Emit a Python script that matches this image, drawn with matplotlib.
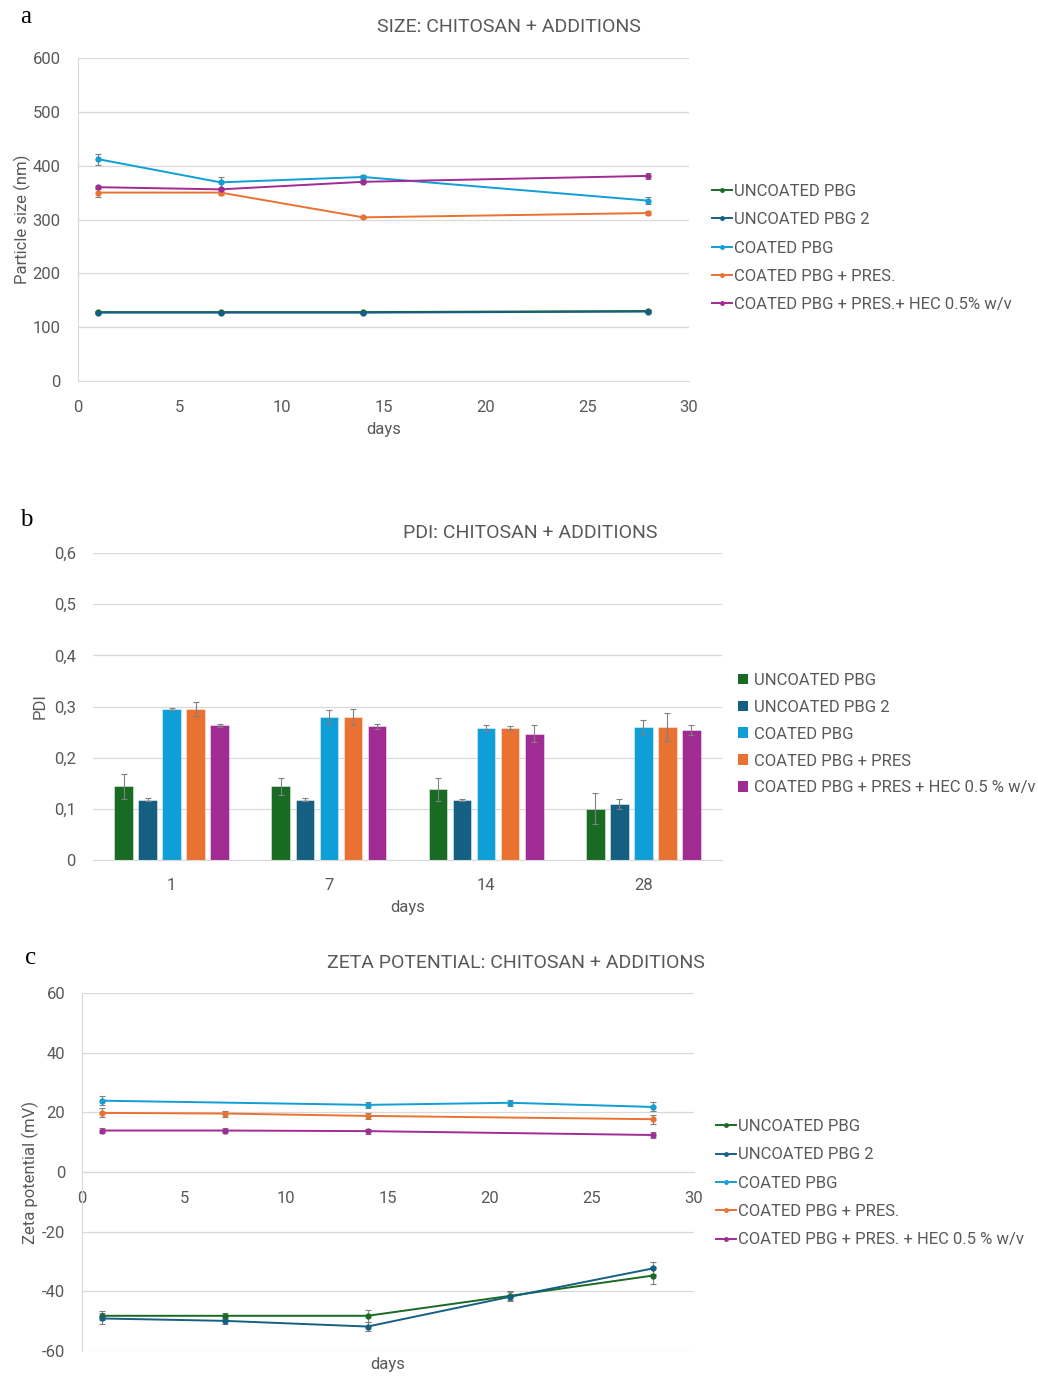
import matplotlib
matplotlib.use("Agg")
import matplotlib.pyplot as plt
from matplotlib.lines import Line2D
from matplotlib.patches import Patch
import numpy as np

plt.rcParams['font.family'] = ['Roboto', 'DejaVu Sans']
plt.rcParams['axes.unicode_minus'] = False

# series names and colours
names_a = ["UNCOATED PBG", "UNCOATED PBG 2", "COATED PBG", "COATED PBG + PRES.",
           "COATED PBG + PRES.+ HEC 0.5% w/v"]
names_b = ["UNCOATED PBG", "UNCOATED PBG 2", "COATED PBG", "COATED PBG + PRES",
           "COATED PBG + PRES + HEC 0.5 % w/v"]
names_c = ["UNCOATED PBG", "UNCOATED PBG 2", "COATED PBG", "COATED PBG + PRES.",
           "COATED PBG + PRES. + HEC 0.5 % w/v"]
colors = ["#196B24", "#156082", "#0F9ED5", "#E97132", "#A02B93"]

# particle size (nm)
size_days = [1, 7, 14, 28]
size_uncoated = [128, 128, 128, 130]
size_uncoated2 = [127, 127, 127, 129]
size_coated = [412, 369, 379, 335]
size_pres = [350, 350, 304, 312]
size_hec = [360, 356, 370, 381]
size_uncoated_err = [2, 2, 2, 2]
size_uncoated2_err = [2, 2, 2, 2]
size_coated_err = [10, 10, 3, 6]
size_pres_err = [8, 5, 2, 3]
size_hec_err = [3, 3, 3, 5]

# PDI
pdi_days = ["1", "7", "14", "28"]
pdi_uncoated = [0.144, 0.144, 0.138, 0.100]
pdi_uncoated2 = [0.118, 0.118, 0.118, 0.110]
pdi_coated = [0.295, 0.280, 0.258, 0.260]
pdi_pres = [0.295, 0.280, 0.258, 0.260]
pdi_hec = [0.263, 0.261, 0.247, 0.254]
pdi_uncoated_err = [0.025, 0.017, 0.023, 0.030]
pdi_uncoated2_err = [0.003, 0.003, 0.002, 0.010]
pdi_coated_err = [0.002, 0.014, 0.005, 0.013]
pdi_pres_err = [0.013, 0.016, 0.004, 0.028]
pdi_hec_err = [0.003, 0.004, 0.017, 0.009]

# zeta potential (mV)
zeta_uncoated_days = [1, 7, 14, 21, 28]
zeta_uncoated = [-48.2, -48.2, -48.2, -41.5, -34.7]
zeta_uncoated_err = [1.5, 1.0, 2.0, 1.5, 3.0]
zeta_uncoated2_days = [1, 7, 14, 21, 28]
zeta_uncoated2 = [-49.1, -49.9, -51.8, -41.8, -32.3]
zeta_uncoated2_err = [2.0, 1.0, 1.5, 1.5, 2.0]
zeta_coated_days = [1, 14, 21, 28]
zeta_coated = [23.9, 22.5, 23.2, 21.8]
zeta_coated_err = [1.5, 1.0, 1.0, 1.5]
zeta_pres_days = [1, 7, 14, 28]
zeta_pres = [19.8, 19.6, 18.8, 17.7]
zeta_pres_err = [1.5, 1.0, 1.0, 1.5]
zeta_hec_days = [1, 7, 14, 28]
zeta_hec = [13.9, 13.9, 13.7, 12.4]
zeta_hec_err = [0.8, 0.8, 0.8, 1.0]

W, H = 1038, 1376
TXT = "#595959"
GRID = "#d9d9d9"
ERR = "#808080"

fig = plt.figure(figsize=(W / 100, H / 100), dpi=100)


def px_axes(left, top, right, bottom):
    return fig.add_axes([left / W, 1 - bottom / H, (right - left) / W, (bottom - top) / H])


def style(ax):
    for s in ["top", "right"]:
        ax.spines[s].set_visible(False)
    ax.spines["left"].set_color(GRID)
    ax.spines["bottom"].set_color(GRID)
    ax.tick_params(length=0, colors=TXT, labelsize=12)
    ax.yaxis.grid(True, color=GRID, lw=0.9)
    ax.set_axisbelow(True)


def line(ax, x, y, e, c, label):
    ax.errorbar(x, y, yerr=e, color=c, lw=1.4, marker="o", ms=3.5,
                ecolor=ERR, elinewidth=0.8, capsize=2, capthick=0.8, label=label)


def line_legend(names, left, top):
    handles = [Line2D([], [], color=c, lw=1.4, marker="o", ms=2.5) for c in colors]
    fig.legend(handles, names, loc="upper left", bbox_to_anchor=(left / W, 1 - top / H),
               frameon=False, fontsize=12, labelcolor=TXT, handlelength=1.2,
               handletextpad=0.15, labelspacing=0.8, borderpad=0, borderaxespad=0)


# ---- a: size ----
ax1 = px_axes(78, 58, 689, 381)
style(ax1)
line(ax1, size_days, size_uncoated, size_uncoated_err, colors[0], names_a[0])
line(ax1, size_days, size_uncoated2, size_uncoated2_err, colors[1], names_a[1])
line(ax1, size_days, size_coated, size_coated_err, colors[2], names_a[2])
line(ax1, size_days, size_pres, size_pres_err, colors[3], names_a[3])
line(ax1, size_days, size_hec, size_hec_err, colors[4], names_a[4])
ax1.set_xlim(0, 30)
ax1.set_ylim(0, 600)
ax1.set_xticks(range(0, 31, 5))
ax1.set_yticks(range(0, 601, 100))
ax1.tick_params(axis="x", pad=14)
ax1.tick_params(axis="y", pad=12.5)
ax1.set_xlabel("days", color=TXT, fontsize=12, labelpad=5)
ax1.set_ylabel("Particle size (nm)", color=TXT, fontsize=12, labelpad=1)
line_legend(names_a, 712, 184)
fig.text(509 / W, 1 - 27 / H, "SIZE: CHITOSAN + ADDITIONS", ha="center", va="center",
         fontsize=14, color=TXT)

# ---- b: PDI ----
ax2 = px_axes(93, 553, 722, 860)
style(ax2)
ax2.spines["left"].set_visible(False)
groups = np.arange(len(pdi_days))
pdi_vals = [pdi_uncoated, pdi_uncoated2, pdi_coated, pdi_pres, pdi_hec]
pdi_errs = [pdi_uncoated_err, pdi_uncoated2_err, pdi_coated_err, pdi_pres_err, pdi_hec_err]
step = 0.153
for i, (v, e) in enumerate(zip(pdi_vals, pdi_errs)):
    ax2.bar(groups + (i - 2) * step, v, width=0.118, color=colors[i],
            edgecolor=(1, 1, 1, 0.5), linewidth=0.6,
            yerr=e, error_kw=dict(ecolor=ERR, elinewidth=0.8, capsize=2, capthick=0.8))
ax2.set_xlim(-0.5, 3.5)
ax2.set_ylim(0, 0.6)
ax2.set_xticks(groups)
ax2.set_xticklabels(pdi_days)
ax2.set_yticks(np.arange(0, 0.61, 0.1))
ax2.set_yticklabels(["0", "0,1", "0,2", "0,3", "0,4", "0,5", "0,6"])
ax2.tick_params(axis="x", pad=13)
ax2.tick_params(axis="y", pad=12.5)
ax2.set_xlabel("days", color=TXT, fontsize=12, labelpad=5)
ax2.set_ylabel("PDI", color=TXT, fontsize=12, labelpad=4.5)
bar_handles = [Patch(facecolor=c) for c in colors]
fig.legend(bar_handles, names_b, loc="upper left", bbox_to_anchor=(738 / W, 1 - 673 / H),
           frameon=False, fontsize=12, labelcolor=TXT, handlelength=0.6, handleheight=0.6,
           handletextpad=0.35, labelspacing=0.71, borderpad=0, borderaxespad=0)
fig.text(530 / W, 1 - 533 / H, "PDI: CHITOSAN + ADDITIONS", ha="center", va="center",
         fontsize=14, color=TXT)

# ---- c: zeta potential ----
ax3 = px_axes(82, 993, 694, 1351)
style(ax3)
ax3.spines["bottom"].set_position(("data", 0))
line(ax3, zeta_uncoated_days, zeta_uncoated, zeta_uncoated_err, colors[0], names_c[0])
line(ax3, zeta_uncoated2_days, zeta_uncoated2, zeta_uncoated2_err, colors[1], names_c[1])
line(ax3, zeta_coated_days, zeta_coated, zeta_coated_err, colors[2], names_c[2])
line(ax3, zeta_pres_days, zeta_pres, zeta_pres_err, colors[3], names_c[3])
line(ax3, zeta_hec_days, zeta_hec, zeta_hec_err, colors[4], names_c[4])
ax3.set_xlim(0, 30)
ax3.set_ylim(-60, 60)
ax3.set_xticks(range(0, 31, 5))
ax3.set_yticks(range(-60, 61, 20))
ax3.tick_params(axis="x", pad=14)
ax3.tick_params(axis="y", pad=12)
ax3.text(0.5, -14 / 358, "days", transform=ax3.transAxes, ha="center", va="center",
         color=TXT, fontsize=12)
ax3.set_ylabel("Zeta potential (mV)", color=TXT, fontsize=12, labelpad=2)
line_legend(names_c, 716, 1119)
fig.text(516 / W, 1 - 963 / H, "ZETA POTENTIAL: CHITOSAN + ADDITIONS", ha="center",
         va="center", fontsize=14, color=TXT)

# panel letters
for x, y, s in [(20, 17, "a"), (20, 520, "b"), (25, 958, "c")]:
    fig.text(x / W, 1 - y / H, s, ha="left", va="center", fontsize=18,
             family="Liberation Serif", color="black")

fig.savefig("out.png", dpi=100)
